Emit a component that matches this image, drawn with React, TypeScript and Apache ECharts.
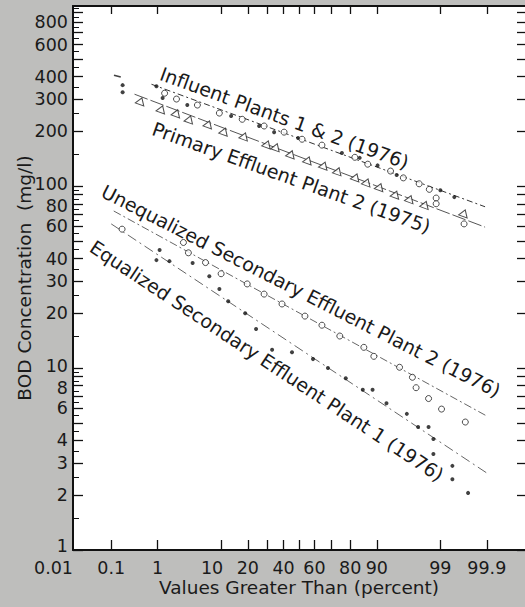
import React, { useEffect, useRef } from 'react';
import * as echarts from 'echarts';

// ---------- data (x: percent of values greater than, y: BOD mg/l) ----------
const xTickPercents = [0.1, 1, 10, 20, 30, 40, 50, 60, 70, 80, 90, 99, 99.9];
const xLabelTexts = ['0.01', '0.1', '1', '10', '20', '40', '60', '80', '90', '99', '99.9'];
const yLabelValues = [1, 2, 3, 4, 6, 8, 10, 20, 30, 40, 60, 80, 100, 200, 300, 400, 600, 800];
const yTickValues = [1, 2, 3, 4, 5, 6, 7, 8, 9, 10, 20, 30, 40, 50, 60, 70, 80, 90, 100, 200, 300, 400, 500, 600, 700, 800, 900];
const yHalfTickValues = [1.5, 2.5, 3.5, 4.5, 5.5, 6.5, 7.5, 8.5, 9.5, 15, 25, 35, 45, 55, 65, 75, 85, 95, 150, 250, 350, 450, 550, 650, 750, 850, 950];

const annotationTexts = [
  'Influent Plants 1 & 2 (1976)',
  'Primary Effluent Plant 2 (1975)',
  'Unequalized Secondary Effluent Plant 2 (1976)',
  'Equalized Secondary Effluent Plant 1 (1976)',
];

const influentPlant1 = [[0.185, 359], [0.185, 328], [0.95, 354], [1.24, 305], [3.3, 279], [13.2, 243], [25.6, 214], [34.1, 198], [49.4, 184], [76, 152], [84.1, 143], [90.2, 130], [94.6, 115], [99.0, 95], [99.47, 87]];
const influentPlant2 = [[1.35, 324], [2.19, 301], [4.73, 279], [9.5, 252], [17.5, 233], [28.3, 214], [40.3, 198], [52, 181], [64.7, 168], [82.1, 144], [87.1, 132], [93.4, 121], [95.7, 111], [97.6, 103], [98.4, 96], [98.8, 86], [98.8, 80], [99.67, 62]];
const influentDash = [[0.14, 402]];
const primaryPlant2 = [[0.46, 293], [1.18, 265], [2.19, 252], [3.57, 233], [6.8, 219], [10.9, 200], [18.4, 188], [30, 170], [35.3, 164], [44.8, 150], [55.9, 139], [65.9, 130], [73.9, 121], [82.5, 112], [86.8, 105], [90.8, 99], [94.4, 90], [96.6, 85], [98.1, 79], [99.67, 71]];
const unequalizedPlant2 = [[0.18, 58], [2.86, 49], [3.44, 43], [6.2, 38], [10, 33], [19.7, 29], [28.3, 25.5], [39, 22.5], [53.9, 19.3], [64.7, 17.2], [74.9, 15], [85.7, 13], [89.1, 11.6], [95.1, 10.1], [96.9, 8.9], [97.3, 7.8], [98.35, 6.8], [99.05, 5.95], [99.69, 5.05]];
const equalizedPlant1 = [[1.09, 44.5], [0.95, 39.2], [1.65, 38.7], [4.0, 37.8], [7.0, 32], [9.5, 27.2], [12.2, 23.3], [18.8, 20], [24, 16.4], [32.9, 12.6], [45.4, 12.2], [59.1, 11.2], [68.3, 10], [77.9, 8.8], [85.3, 7.6], [88.7, 7.6], [92.5, 6.4], [96.2, 5.6], [97.5, 4.74], [98.35, 4.74], [98.65, 4.07], [98.65, 3.37], [99.42, 2.9], [99.42, 2.45], [99.73, 2.06]];

const influentFit = [[0.76, 363], [99.89, 77]];
const primaryFit = [[0.34, 320], [99.89, 59.5]];
const unequalizedFit = [[0.115, 73], [99.9, 5.45]];
const equalizedFit = [[0.1, 62], [99.9, 2.65]];

// ---------- scales ----------
function probit(p: number): number {
  const a = [-3.969683028665376e1, 2.209460984245205e2, -2.759285104469687e2, 1.38357751867269e2, -3.066479806614716e1, 2.506628277459239];
  const b = [-5.447609879822406e1, 1.615858368580409e2, -1.556989798598866e2, 6.680131188771972e1, -1.328068155288572e1];
  const c = [-7.784894002430293e-3, -3.223964580411365e-1, -2.400758277161838, -2.549732539343734, 4.374664141464968, 2.938163982698783];
  const d = [7.784695709041462e-3, 3.224671290700398e-1, 2.445134137142996, 3.754408661907416];
  const plow = 0.02425;
  if (p < plow) {
    const q = Math.sqrt(-2 * Math.log(p));
    return (((((c[0] * q + c[1]) * q + c[2]) * q + c[3]) * q + c[4]) * q + c[5]) / ((((d[0] * q + d[1]) * q + d[2]) * q + d[3]) * q + 1);
  }
  if (p <= 1 - plow) {
    const q = p - 0.5;
    const r = q * q;
    return ((((((a[0] * r + a[1]) * r + a[2]) * r + a[3]) * r + a[4]) * r + a[5]) * q) / (((((b[0] * r + b[1]) * r + b[2]) * r + b[3]) * r + b[4]) * r + 1);
  }
  const q = Math.sqrt(-2 * Math.log(1 - p));
  return -(((((c[0] * q + c[1]) * q + c[2]) * q + c[3]) * q + c[4]) * q + c[5]) / ((((d[0] * q + d[1]) * q + d[2]) * q + d[3]) * q + 1);
}
const zOf = (pct: number) => probit(pct / 100);
const tr = (arr: number[][]) => arr.map(([p, v]) => [zOf(p), Math.log10(v)]);

const X_MIN = zOf(0.01);
const X_MAX = zOf(99.99);
const Y_MIN = 0;
const Y_MAX = 2.99;

const FONT = '"DejaVu Sans", sans-serif';
const INK = '#1a1a1a';

export default function App() {
  const ref = useRef<HTMLDivElement>(null);

  useEffect(() => {
    if (!ref.current) return;
    const chart = echarts.init(ref.current, undefined, { renderer: 'svg' });

    const xLabelZ = xLabelTexts.map((s) => zOf(parseFloat(s)));
    const xFormatter = (val: number) => {
      let best = 0;
      for (let i = 1; i < xLabelZ.length; i++) {
        if (Math.abs(xLabelZ[i] - val) < Math.abs(xLabelZ[best] - val)) best = i;
      }
      const t = xLabelTexts[best];
      if (t === '10') return '{b|' + t + '}';
      return t;
    };
    const yFormatter = (val: number) => {
      const v = Math.round(Math.pow(10, val));
      if (v === 1) return '{u|1}';
      if (v === 10 || v === 100) return '{up|' + v + '}';
      if (v === 8 || v === 80) return '{dn|' + v + '}';
      return String(v);
    };
    const tickFont = { fontSize: 17.5, fontFamily: FONT, color: INK, lineHeight: 17 };
    const nameFont = { fontSize: 18.5, fontFamily: FONT, color: INK };

    const lineStyleBase = { width: 1 };
    const openStyle = { color: '#fff', borderColor: '#222', borderWidth: 1 };

    const deg = Math.PI / 180;
    const annot = (i: number, x: number, y: number, angle: number) => ({
      type: 'text',
      x,
      y,
      rotation: -angle * deg,
      z: 100,
      style: {
        text: annotationTexts[i],
        fontSize: 19,
        fontFamily: FONT,
        fill: INK,
        textAlign: 'left',
        textVerticalAlign: 'middle',
      },
    });

    const hiddenLine = { show: false, onZero: false };

    chart.setOption({
      animation: false,
      backgroundColor: '#bebebc',
      grid: {
        left: 73,
        right: 0,
        top: 6,
        bottom: 57,
        show: true,
        backgroundColor: '#ffffff',
        borderWidth: 0,
        outerBoundsMode: 'none',
      },
      xAxis: [
        {
          type: 'value',
          position: 'bottom',
          min: X_MIN,
          max: X_MAX,
          splitLine: { show: false },
          axisLine: { show: true, onZero: false, lineStyle: { color: '#111', width: 2 } },
          axisTick: {
            show: true,
            inside: true,
            length: 10,
            customValues: xTickPercents.map(zOf),
            lineStyle: { color: '#111', width: 1.3 },
          },
          axisLabel: {
            show: true,
            hideOverlap: false,
            showMinLabel: true,
            showMaxLabel: true,
            alignMinLabel: 'right',
            margin: 9,
            customValues: xLabelZ,
            formatter: xFormatter,
            ...tickFont,
            rich: {
              b: { ...tickFont, padding: [0, 18, 0, 0] },
            },
          },
          name: 'Values Greater Than (percent)',
          nameLocation: 'middle',
          nameGap: 28,
          nameMoveOverlap: false,
          nameTextStyle: { ...nameFont },
        },
        {
          type: 'value',
          position: 'top',
          min: X_MIN,
          max: X_MAX,
          splitLine: { show: false },
          axisLine: { show: true, onZero: false, lineStyle: { color: '#111', width: 2 } },
          axisTick: {
            show: true,
            inside: true,
            length: 8,
            customValues: xTickPercents.map(zOf),
            lineStyle: { color: '#111', width: 1.3 },
          },
          axisLabel: { show: false },
        },
      ],
      yAxis: [
        {
          type: 'value',
          position: 'left',
          min: Y_MIN,
          max: Y_MAX,
          splitLine: { show: false },
          axisLine: { show: true, onZero: false, lineStyle: { color: '#111', width: 2 } },
          axisTick: {
            show: true,
            inside: true,
            length: 10,
            customValues: yTickValues.map((v) => Math.log10(v)),
            lineStyle: { color: '#111', width: 1.3 },
          },
          axisLabel: {
            show: true,
            hideOverlap: false,
            showMinLabel: true,
            showMaxLabel: true,
            margin: 5,
            customValues: yLabelValues.map((v) => Math.log10(v)),
            formatter: yFormatter,
            ...tickFont,
            rich: {
              u: { ...tickFont, padding: [0, 0, 8, 0] },
              up: { ...tickFont, padding: [0, 0, 4, 0] },
              dn: { ...tickFont, padding: [4, 0, 0, 0] },
            },
          },
          name: 'BOD Concentration  (mg/l)',
          nameLocation: 'middle',
          nameGap: 39,
          nameMoveOverlap: false,
          nameTextStyle: { ...nameFont },
        },
        {
          type: 'value',
          position: 'left',
          min: Y_MIN,
          max: Y_MAX,
          splitLine: { show: false },
          axisLine: hiddenLine,
          axisTick: {
            show: true,
            inside: true,
            length: 6,
            customValues: yHalfTickValues.map((v) => Math.log10(v)),
            lineStyle: { color: '#111', width: 1 },
          },
          axisLabel: { show: false },
        },
        {
          type: 'value',
          position: 'right',
          min: Y_MIN,
          max: Y_MAX,
          splitLine: { show: false },
          axisLine: hiddenLine,
          axisTick: {
            show: true,
            inside: true,
            length: 8,
            customValues: yTickValues.map((v) => Math.log10(v)),
            lineStyle: { color: '#111', width: 1.3 },
          },
          axisLabel: { show: false },
        },
      ],
      series: [
        {
          name: 'Influent fit',
          type: 'line',
          data: tr(influentFit),
          showSymbol: false,
          silent: true,
          z: 1,
          lineStyle: { ...lineStyleBase, color: '#333', type: [6, 3, 2, 3] },
        },
        {
          name: 'Primary fit',
          type: 'line',
          data: tr(primaryFit),
          showSymbol: false,
          silent: true,
          z: 1,
          lineStyle: { ...lineStyleBase, color: '#555', type: [14, 3] },
        },
        {
          name: 'Unequalized fit',
          type: 'line',
          data: tr(unequalizedFit),
          showSymbol: false,
          silent: true,
          z: 1,
          lineStyle: { ...lineStyleBase, color: '#666', type: [8, 3, 2, 3] },
        },
        {
          name: 'Equalized fit',
          type: 'line',
          data: tr(equalizedFit),
          showSymbol: false,
          silent: true,
          z: 1,
          lineStyle: { ...lineStyleBase, color: '#666', type: [10, 4, 2, 4] },
        },
        {
          name: 'Influent Plant 1 (1976)',
          type: 'scatter',
          data: tr(influentPlant1),
          symbol: 'circle',
          symbolSize: 4,
          itemStyle: { color: '#111' },
          z: 3,
        },
        {
          name: 'Influent Plant 2 (1976)',
          type: 'scatter',
          data: tr(influentPlant2),
          symbol: 'circle',
          symbolSize: 6,
          itemStyle: openStyle,
          z: 3,
        },
        {
          name: 'Influent dash',
          type: 'scatter',
          data: tr(influentDash),
          symbol: 'rect',
          symbolSize: [7, 1.6],
          symbolRotate: -15,
          itemStyle: { color: '#111' },
          z: 3,
        },
        {
          name: 'Primary Effluent Plant 2 (1975)',
          type: 'scatter',
          data: tr(primaryPlant2),
          symbol: 'triangle',
          symbolSize: [9, 7],
          symbolRotate: -20,
          itemStyle: openStyle,
          z: 3,
        },
        {
          name: 'Unequalized Secondary Effluent Plant 2 (1976)',
          type: 'scatter',
          data: tr(unequalizedPlant2),
          symbol: 'circle',
          symbolSize: 6,
          itemStyle: openStyle,
          z: 3,
        },
        {
          name: 'Equalized Secondary Effluent Plant 1 (1976)',
          type: 'scatter',
          data: tr(equalizedPlant1),
          symbol: 'circle',
          symbolSize: 4,
          itemStyle: { color: '#111' },
          z: 3,
        },
      ],
      graphic: [
        annot(0, 161, 73, 20),
        annot(1, 153, 128, 19.7),
        annot(2, 103, 190, 27),
        annot(3, 92, 245, 33.5),
      ],
    });

    return () => chart.dispose();
  }, []);

  return (
    <div
      ref={ref}
      style={{ position: 'fixed', left: 0, top: 0, width: 525, height: 607 }}
    />
  );
}
